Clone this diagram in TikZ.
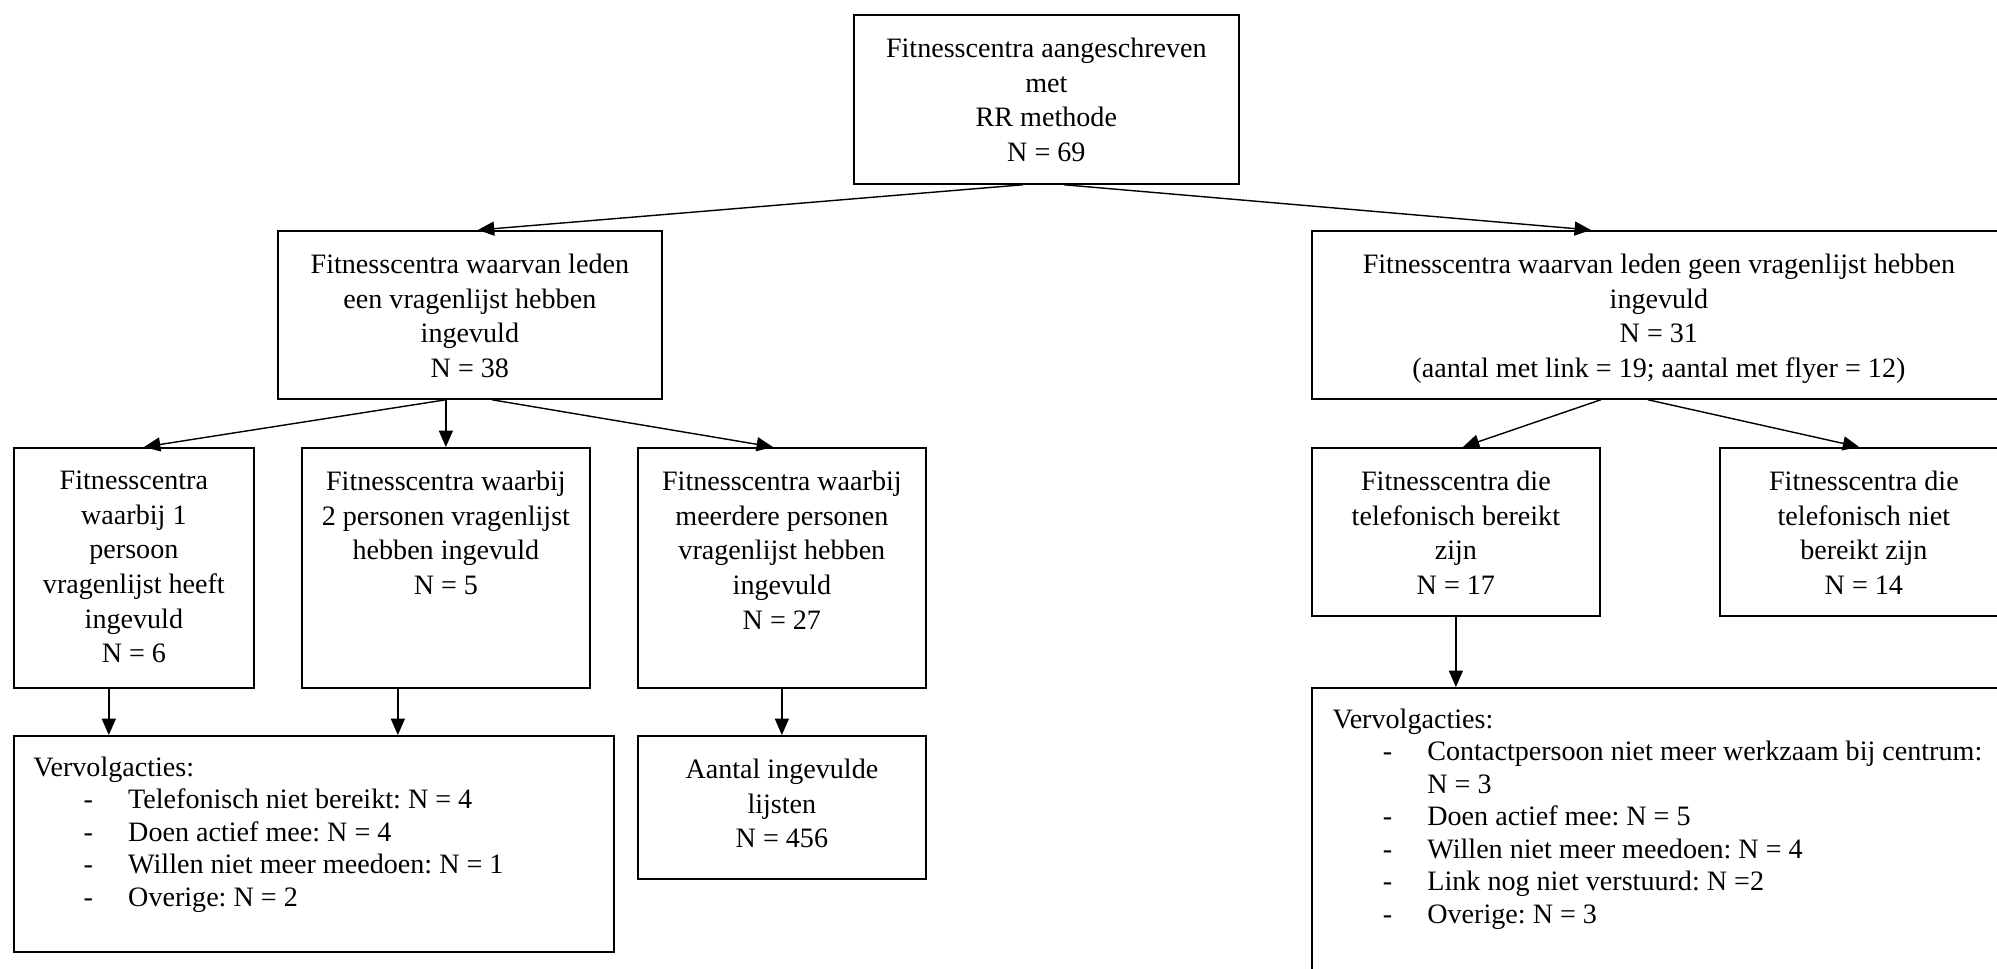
\documentclass[tikz,border=0pt]{standalone}
\usepackage{fontspec}
\setmainfont{Liberation Serif}
\usetikzlibrary{arrows.meta,positioning}
\tikzset{
  box/.style={draw,line width=0.75pt,anchor=north west,inner sep=0pt},
  sz/.style 2 args={minimum width=#1*0.427pt,minimum height=#2*0.427pt},
  txt/.style={font=\fontsize{12}{14.8}\selectfont,align=center,inner sep=0pt},
  lst/.style={font=\fontsize{12}{13.9}\selectfont,align=left,inner sep=0pt,anchor=north west},
  flow/.style={line width=0.6pt,-{Triangle[length=7pt,width=6pt]}}
}
\newcommand\itm[1]{\hspace*{21.5pt}\makebox[19pt][l]{-}#1}
\frenchspacing

\begin{document}
\begin{tikzpicture}[x=0.427pt,y=-0.427pt]
  \clip (0,0) rectangle (1997,969);
  % boxes
  \node[box,sz={385}{169}] (top) at (853,14) {};
  \node[box,sz={384}{168}] (resp) at (277,230) {};
  \node[box,sz={694}{168}] (nonresp) at (1311,230) {};
  \node[box,sz={240}{240}] (een) at (13,447) {};
  \node[box,sz={288}{240}] (twee) at (301,447) {};
  \node[box,sz={288}{240}] (meer) at (637,447) {};
  \node[box,sz={288}{168}] (bereikt) at (1311,447) {};
  \node[box,sz={288}{168}] (nietber) at (1719,447) {};
  \node[box,sz={600}{216}] (vervA) at (13,735) {};
  \node[box,sz={288}{143}] (lijsten) at (637,735) {};
  \node[box,sz={694}{330}] (vervB) at (1311,687) {};

  % texts
  \node[txt,below=10pt of top.north] (topt) {Fitnesscentra aangeschreven\\met\\RR methode\\N = 69};
  \node[txt,below=10pt of resp.north] (respt) {Fitnesscentra waarvan leden\\een vragenlijst hebben\\ingevuld\\N = 38};
  \node[txt,below=10pt of nonresp.north] (nonrespt) {Fitnesscentra waarvan leden geen vragenlijst hebben\\ingevuld\\N = 31\\(aantal met link = 19; aantal met flyer = 12)};
  \node[txt,below=10pt of een.north] (eent) {Fitnesscentra\\waarbij 1\\persoon\\vragenlijst heeft\\ingevuld\\N = 6};
  \node[txt,below=10pt of twee.north] (tweet) {Fitnesscentra waarbij\\2 personen vragenlijst\\hebben ingevuld\\N = 5};
  \node[txt,below=10pt of meer.north] (meert) {Fitnesscentra waarbij\\meerdere personen\\vragenlijst hebben\\ingevuld\\N = 27};
  \node[txt,below=10pt of bereikt.north] (bereiktt) {Fitnesscentra die\\telefonisch bereikt\\zijn\\N = 17};
  \node[txt,below=10pt of nietber.north] (nietbert) {Fitnesscentra die\\telefonisch niet\\bereikt zijn\\N = 14};
  \node[txt,below=10pt of lijsten.north] (lijstent) {Aantal ingevulde\\lijsten\\N = 456};
  \node[lst] (vervAt) at ([xshift=8.5pt,yshift=-9pt]vervA.north west) {Vervolgacties:\\
    \itm{Telefonisch niet bereikt: N = 4}\\
    \itm{Doen actief mee: N = 4}\\
    \itm{Willen niet meer meedoen: N = 1}\\
    \itm{Overige: N = 2}};
  \node[lst] (vervBt) at ([xshift=9pt,yshift=-9pt]vervB.north west) {Vervolgacties:\\
    \itm{Contactpersoon niet meer werkzaam bij centrum:}\\
    \hspace*{40.5pt}N = 3\\
    \itm{Doen actief mee: N = 5}\\
    \itm{Willen niet meer meedoen: N = 4}\\
    \itm{Link nog niet verstuurd: N =2}\\
    \itm{Overige: N = 3}};

  % arrows
  \draw[flow] ([xshift=-10pt]top.south) -- ([xshift=3.4pt]resp.north);
  \draw[flow] ([xshift=7.5pt]top.south) -- ([xshift=-29pt]nonresp.north);
  \draw[flow] ([xshift=-10.2pt]resp.south) -- ([xshift=4.3pt]een.north);
  \draw[flow] (twee.north |- resp.south) -- (twee.north);
  \draw[flow] ([xshift=9.4pt]resp.south) -- ([xshift=-3.8pt]meer.north);
  \draw[flow] ([xshift=-10.7pt]een.south) -- ([xshift=-10.7pt]een.south |- vervA.north);
  \draw[flow] ([xshift=-20.5pt]twee.south) -- ([xshift=-20.5pt]twee.south |- vervA.north);
  \draw[flow] (meer.south) -- (lijsten.north);
  \draw[flow] ([xshift=-24.8pt]nonresp.south) -- ([xshift=3pt]bereikt.north);
  \draw[flow] ([xshift=-4.7pt]nonresp.south) -- ([xshift=-2pt]nietber.north);
  \draw[flow] (bereikt.south) -- (bereikt.south |- vervB.north);
\end{tikzpicture}
\end{document}
